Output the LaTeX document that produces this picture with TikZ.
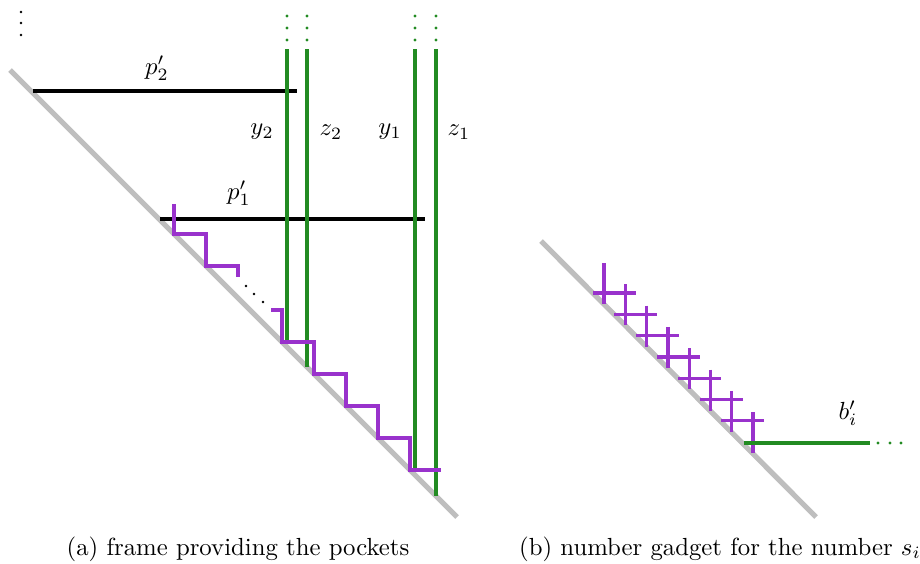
\documentclass[tikz,border=0pt]{standalone}
\definecolor{gframe}{RGB}{34,139,34}
\definecolor{pstep}{RGB}{153,50,204}
\definecolor{gdiag}{RGB}{190,190,190}
\tikzset{
  diag/.style={gdiag, line width=2.1pt},
  bar/.style={black, line width=1.35pt},
  gline/.style={gframe, line width=1.3pt},
  stair/.style={pstep, line width=1.3pt},
  lab/.style={inner sep=0pt},
}
\begin{document}
\begin{tikzpicture}[x=0.404pt,y=-0.404pt]
\useasboundingbox (0,0) rectangle (920,563);
% ---------- (a) ----------
\draw[diag] (10,70) -- (457,517);
\draw[bar] (33,91) -- (297,91);
\draw[bar] (160,219) -- (425,219);
\node[lab] (p2) at (157,68) {$p'_2$};
\node[lab] (p1) at (239,193) {$p'_1$};
% green frame lines
\draw[gline] (287,49) -- (287,342);
\draw[gline] (307,49) -- (307,367);
\draw[gline] (415,49) -- (415,470);
\draw[gline] (436,49) -- (436,496);
\foreach \x in {287,307,415,436}{
  \foreach \y in {16,28,40}{ \fill[gframe] (\x,\y) circle (1.6); }
}
\foreach \y in {12,23,35}{ \fill[black] (21,\y) circle (1.4); }
\node[lab] (y2) at (262,132) {$y_2$};
\node[lab] (z2) at (331,132) {$z_2$};
\node[lab] (y1) at (390,132) {$y_1$};
\node[lab] (z1) at (459,132) {$z_1$};
% staircase
\draw[stair] (174,204) -- (174,234) -- (206,234) -- (206,266) -- (238,266) -- (238,277);
\foreach \p in {(246,286),(254,294),(263,302)}{ \fill[black] \p circle (1.3); }
\draw[stair] (271,310) -- (282,310) -- (282,342) -- (314,342) -- (314,374) -- (346,374) -- (346,406) -- (378,406) -- (378,438) -- (410,438) -- (410,470) -- (441,470);
\node[lab] (capa) at (238,549) {(a) frame providing the pockets};
% ---------- (b) ----------
\draw[diag] (541,241) -- (816,517);
\foreach \i in {0,...,7}{
  \draw[stair] ({604+21.3*\i},{263+21.3*\i}) -- ({604+21.3*\i},{304+21.3*\i});
}
\foreach \i in {0,...,6}{
  \draw[stair] ({593+21.3*\i},{293+21.3*\i}) -- ({636+21.3*\i},{293+21.3*\i});
}
\draw[gline] (744,443) -- (870,443);
\foreach \x in {878,890,901}{ \fill[gframe] (\x,443) circle (1.6); }
\node[lab] (bi) at (848,413) {$b'_i$};
\node[lab] (capb) at (720,549) {(b) number gadget for the number $s_i$};
\end{tikzpicture}
\end{document}
